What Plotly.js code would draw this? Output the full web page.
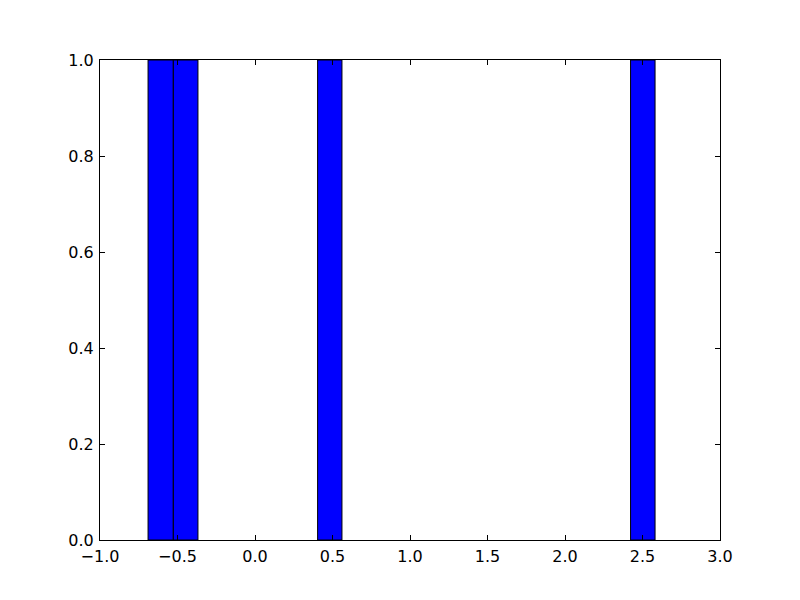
<!DOCTYPE html>
<html>
<head>
<meta charset="utf-8">
<script src="https://cdn.plot.ly/plotly-3.0.1.min.js"></script>
<style>html,body{margin:0;padding:0;background:#fff;}</style>
</head>
<body>
<div id="chart" style="width:800px;height:600px;"></div>
<script>
// Histogram bins (left edge, right edge) and counts
var binLeft = [-0.690, -0.527, 0.404, 2.423];
var binRight = [-0.527, -0.368, 0.561, 2.581];
var counts = [1, 1, 1, 1];
var xTickVals = [-1.0, -0.5, 0.0, 0.5, 1.0, 1.5, 2.0, 2.5, 3.0];
var yTickVals = [0.0, 0.2, 0.4, 0.6, 0.8, 1.0];

var centers = binLeft.map(function (l, i) { return (l + binRight[i]) / 2; });
var widths = binLeft.map(function (l, i) { return binRight[i] - l; });

var trace = {
  type: 'bar',
  x: centers,
  y: counts,
  width: widths,
  marker: { color: '#0000ff', line: { color: '#000000', width: 1 } },
  hoverinfo: 'x+y'
};

var axisCommon = {
  showgrid: false,
  zeroline: false,
  showline: true,
  linecolor: '#000',
  linewidth: 1,
  mirror: 'ticks',
  ticks: 'inside',
  ticklen: 5,
  tickwidth: 1,
  tickcolor: '#000',
  tickfont: { family: 'DejaVu Sans', size: 16, color: '#000' }
};

var layout = {
  width: 800,
  height: 600,
  margin: { l: 100, r: 80, t: 60, b: 60 },
  paper_bgcolor: '#fff',
  plot_bgcolor: '#fff',
  showlegend: false,
  bargap: 0,
  xaxis: Object.assign({}, axisCommon, {
    range: [-1, 3],
    tickvals: xTickVals,
    ticktext: xTickVals.map(function (v) { return v.toFixed(1).replace('-', '\u2212'); }),
    ticklabelstandoff: 2
  }),
  yaxis: Object.assign({}, axisCommon, {
    range: [0, 1],
    tickvals: yTickVals,
    ticktext: yTickVals.map(function (v) { return v.toFixed(1); }),
    ticklabelstandoff: 2
  })
};

Plotly.newPlot('chart', [trace], layout, { displayModeBar: false, staticPlot: true });
</script>
</body>
</html>
